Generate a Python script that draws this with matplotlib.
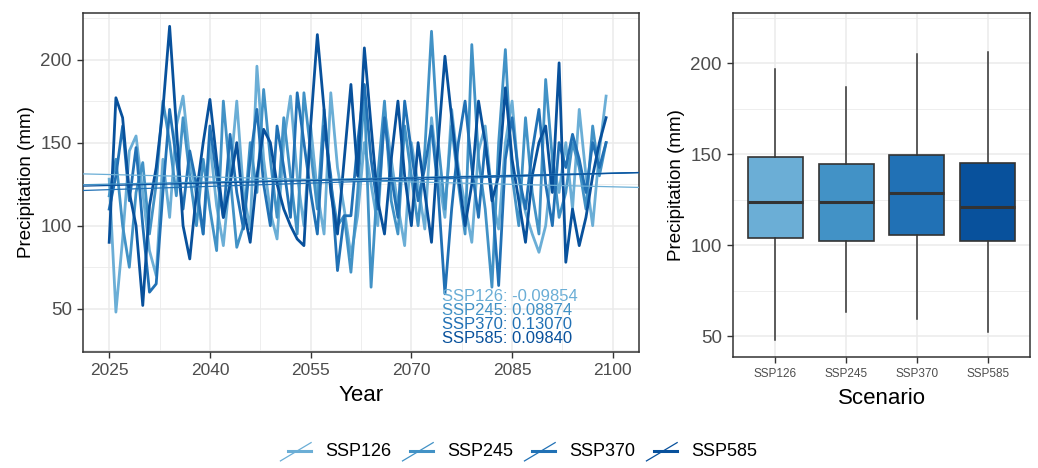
"""
Monthly-ish precipitation under four SSP scenarios, 2025-2099.

Left: time series with fitted linear trends (slopes annotated).
Right: box plots of the same scenarios.
"""

import matplotlib
matplotlib.use("Agg")
import matplotlib.pyplot as plt
from matplotlib.lines import Line2D
from matplotlib.legend_handler import HandlerBase

plt.rcParams["font.family"] = ["Liberation Sans", "DejaVu Sans"]

scenarios = ["SSP126", "SSP245", "SSP370", "SSP585"]
colors = ["#6BAED6", "#4292C6", "#2171B5", "#08519C"]

years = list(range(2025, 2100))

ssp126 = [128, 48, 92, 145, 154, 120, 85, 70, 140, 105, 160, 178, 140, 118, 95,
          150, 112, 88, 130, 175, 120, 98, 196, 140, 108, 92, 150, 178, 130, 100,
          160, 120, 95, 180, 135, 110, 82, 106, 150, 125, 100, 170, 140, 112, 88,
          150, 125, 98, 165, 130, 105, 170, 135, 112, 90, 145, 160, 118, 98, 150,
          175, 128, 108, 95, 84, 100, 140, 120, 150, 110, 170, 130, 100, 145, 178]

ssp245 = [118, 140, 100, 75, 120, 138, 95, 125, 175, 150, 118, 165, 130, 100, 140,
          110, 85, 175, 130, 87, 100, 150, 120, 182, 140, 105, 165, 130, 95, 180,
          145, 110, 170, 125, 100, 106, 72, 120, 180, 63, 130, 175, 115, 95, 160,
          130, 100, 145, 217, 150, 110, 160, 125, 95, 209, 140, 110, 63, 150, 206,
          130, 100, 165, 120, 95, 188, 140, 105, 120, 150, 135, 110, 160, 130, 150]

ssp370 = [110, 130, 160, 115, 147, 100, 60, 65, 120, 170, 140, 110, 145, 125, 95,
          160, 130, 105, 155, 120, 98, 140, 170, 125, 100, 160, 135, 105, 180, 150,
          120, 95, 160, 130, 73, 106, 106, 150, 185, 140, 110, 165, 130, 105, 175,
          145, 115, 135, 160, 120, 59, 110, 150, 175, 135, 105, 150, 120, 64, 140,
          165, 130, 110, 145, 170, 125, 100, 150, 135, 155, 140, 120, 150, 135, 150]

ssp585 = [90, 177, 165, 120, 100, 52, 112, 135, 170, 220, 160, 100, 80, 120, 150,
          176, 140, 105, 125, 150, 110, 90, 130, 158, 150, 125, 110, 100, 92, 88,
          160, 215, 170, 120, 95, 140, 185, 130, 207, 160, 115, 95, 140, 175, 130,
          100, 150, 120, 90, 150, 202, 165, 130, 100, 125, 175, 150, 115, 130, 183,
          140, 115, 90, 130, 150, 160, 120, 198, 78, 110, 88, 105, 130, 150, 165]

series = [ssp126, ssp245, ssp370, ssp585]

# linear trend per scenario: slope (mm / yr) and value at 2025
trend_slopes = [-0.09854, 0.08874, 0.13070, 0.09840]
trend_at_2025 = [130.8, 125.0, 121.7, 124.2]
slope_labels = ["SSP126: -0.09854", "SSP245: 0.08874",
                "SSP370: 0.13070", "SSP585: 0.09840"]

# box plot statistics
box_whislo = [48.0, 63.0, 59.3, 52.1]
box_q1 = [104.0, 102.4, 105.5, 102.4]
box_med = [123.8, 123.8, 128.9, 121.0]
box_q3 = [148.4, 144.5, 149.5, 145.2]
box_whishi = [196.9, 187.0, 205.0, 206.4]

W, H = 1038, 468
BORDER = "#333333"
TICKTXT = "#4D4D4D"
GRID = "#EBEBEB"


def style_axes(ax):
    ax.set_facecolor("white")
    for s in ax.spines.values():
        s.set_color(BORDER)
        s.set_linewidth(1.1)
    ax.grid(True, which="major", color=GRID, linewidth=1.1, zorder=0)
    ax.grid(True, which="minor", color=GRID, linewidth=0.6, zorder=0)
    ax.tick_params(which="major", color=BORDER, length=4, width=1,
                   labelcolor=TICKTXT, labelsize=12.5, pad=4)
    ax.tick_params(which="minor", length=0)
    ax.set_axisbelow(True)


class TrendHandler(HandlerBase):
    """Legend key: the series line with the trend line crossing it."""
    def create_artists(self, legend, orig_handle, xd, yd, width, height,
                       fontsize, trans):
        c = orig_handle.get_color()
        flat = Line2D([xd + width * 0.25, xd + width], [yd + height * 0.45] * 2,
                      color=c, lw=2.2, transform=trans)
        diag = Line2D([xd, xd + width], [yd - height * 0.35, yd + height * 1.1],
                      color=c, lw=0.9, transform=trans)
        return [flat, diag]


fig = plt.figure(figsize=(W / 100, H / 100), dpi=100)

# ---------------------------------------------------------------- time series
ax = fig.add_axes([83 / W, 1 - 352 / H, (639 - 83) / W, (352 - 13) / H])
style_axes(ax)

handles = []
for vals, c, name in zip(series, colors, scenarios):
    h, = ax.plot(years, vals, color=c, lw=2.0, label=name, zorder=2)
    handles.append(h)

for a, b, c in zip(trend_at_2025, trend_slopes, colors):
    ax.axline((2025, a), slope=b, color=c, lw=0.9, zorder=3)

ax.set_xlim(2021.1, 2103.9)
ax.set_ylim(24, 228)
ax.set_xticks([2025, 2040, 2055, 2070, 2085, 2100])
ax.set_xticks([2032.5, 2047.5, 2062.5, 2077.5, 2092.5], minor=True)
ax.set_yticks([50, 100, 150, 200])
ax.set_yticks([25, 75, 125, 175, 225], minor=True)
ax.tick_params(axis="y", labelsize=13.5)
ax.set_xlabel("Year", fontsize=16, labelpad=5)
ax.set_ylabel("Precipitation (mm)", fontsize=13.5, labelpad=4)

for i, (txt, c) in enumerate(zip(slope_labels, colors)):
    ax.text(2074.6, 57.5 - i * 8.4, txt, color=c, fontsize=12,
            va="center", ha="left", zorder=4)

# ---------------------------------------------------------------- box plots
bx = fig.add_axes([733 / W, 1 - 357 / H, 297 / W, 344 / H])
style_axes(bx)

stats = []
for i in range(len(scenarios)):
    stats.append({"whislo": box_whislo[i], "q1": box_q1[i], "med": box_med[i],
                  "q3": box_q3[i], "whishi": box_whishi[i], "fliers": []})

bp = bx.bxp(stats, positions=range(1, 5), widths=0.78, patch_artist=True,
            showcaps=False,
            boxprops=dict(edgecolor=BORDER, linewidth=1.2),
            medianprops=dict(color=BORDER, linewidth=2.2),
            whiskerprops=dict(color=BORDER, linewidth=1.1))
for patch, c in zip(bp["boxes"], colors):
    patch.set_facecolor(c)

bx.set_xlim(0.4, 4.6)
bx.set_ylim(38.5, 227.6)
bx.set_xticks(range(1, 5))
bx.set_xticklabels(scenarios)
bx.set_yticks([50, 100, 150, 200])
bx.set_yticks([75, 125, 175, 225], minor=True)
bx.grid(True, which="major", axis="x", color=GRID, linewidth=1.1)
bx.tick_params(axis="x", labelsize=8.5)
bx.tick_params(axis="y", labelsize=13.5)
bx.set_xlabel("Scenario", fontsize=16, labelpad=6)
bx.set_ylabel("Precipitation (mm)", fontsize=13.5, labelpad=4)

# ---------------------------------------------------------------- legend
fig.legend(handles=handles, labels=scenarios, loc="center",
           bbox_to_anchor=(0.5, 1 - 452 / H), ncol=4, frameon=False,
           fontsize=13, handlelength=1.7, handletextpad=0.8,
           columnspacing=0.6, handler_map={Line2D: TrendHandler()})

fig.savefig("out.png", dpi=100)
